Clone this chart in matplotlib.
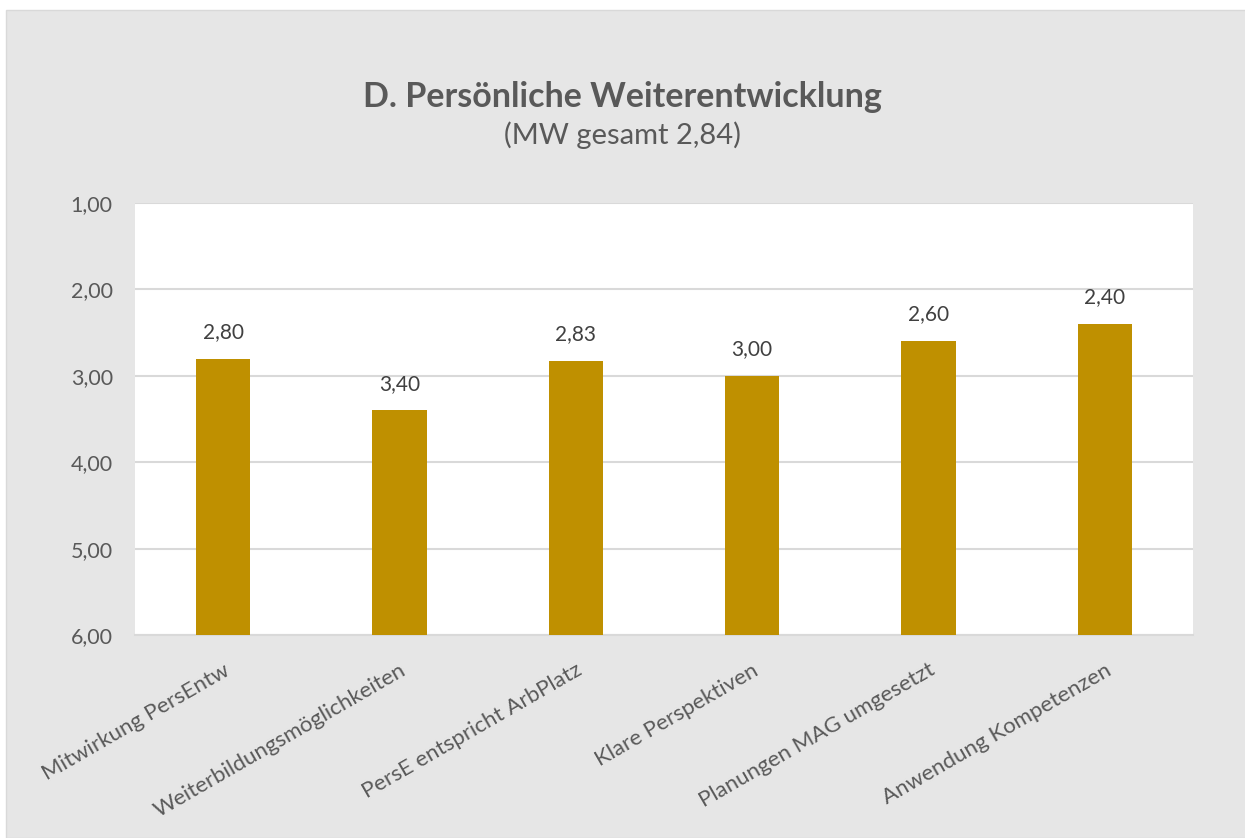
import matplotlib
matplotlib.use("Agg")
import matplotlib.pyplot as plt
from matplotlib.patches import Rectangle

categories = ["Mitwirkung PersEntw", "Weiterbildungsmöglichkeiten", "PersE entspricht ArbPlatz",
              "Klare Perspektiven", "Planungen MAG umgesetzt", "Anwendung Kompetenzen"]
values = [2.80, 3.40, 2.83, 3.00, 2.60, 2.40]
yticks = [1, 2, 3, 4, 5, 6]
title = "D. Persönliche Weiterentwicklung"
subtitle = "(MW gesamt 2,84)"

plt.rcParams['font.family'] = ['Lato', 'DejaVu Sans']
W, H = 1245, 838
fig = plt.figure(figsize=(W/100, H/100), dpi=100, facecolor="white")
fig.patches.append(Rectangle((6/W, 0), 1, (H-10)/H, transform=fig.transFigure,
                             facecolor="#e6e6e6", edgecolor="#d9d9d9", lw=1, zorder=-10))

ax = fig.add_axes([135/W, 1-635/H, (1193-135)/W, (635-203)/H])
ax.set_facecolor("white")
x = list(range(len(categories)))
bars = ax.bar(x, [6 - v for v in values], bottom=values, width=0.31, color="#BF9000", zorder=3)
ax.set_ylim(6, 1)
ax.set_xlim(-0.5, len(categories) - 0.5)
ax.set_yticks(yticks)
ax.set_yticklabels([f"{t:.2f}".replace(".", ",") for t in yticks], fontsize=15.5, color="#595959")
ax.yaxis.grid(True, color="#d9d9d9", lw=1.5, zorder=0)
ax.tick_params(axis="y", length=0, pad=16)
ax.tick_params(axis="x", length=0, pad=18)
ax.set_xticks(x)
ax.set_xticklabels(categories, rotation=30, ha="right", rotation_mode="anchor",
                   fontsize=16, color="#595959")
for s in ["top", "left", "right"]:
    ax.spines[s].set_visible(False)
ax.spines["bottom"].set_color("#d9d9d9")
ax.spines["bottom"].set_linewidth(1.5)

for xi, v in zip(x, values):
    ax.annotate(f"{v:.2f}".replace(".", ","), (xi, v), xytext=(0, 12), textcoords="offset points",
                ha="center", va="bottom", fontsize=15, color="#404040")

fig.text(0.5, 1-97/H, title, ha="center", va="center", fontsize=24.5, fontweight="bold", color="#595959")
fig.text(0.5, 1-135/H, subtitle, ha="center", va="center", fontsize=21, color="#595959")

fig.savefig("out.png", dpi=100, facecolor=fig.get_facecolor())
